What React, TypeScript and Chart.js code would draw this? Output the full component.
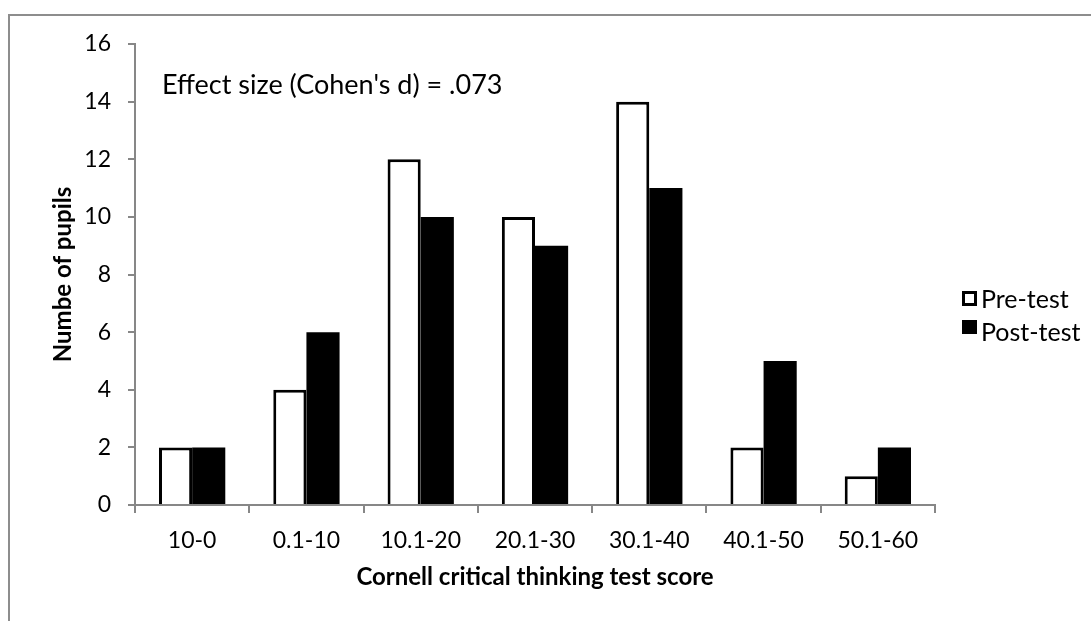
import React, { useEffect, useRef } from "react";
import { Chart, registerables } from "chart.js";

Chart.register(...registerables);

const categories = ["10-0", "0.1-10", "10.1-20", "20.1-30", "30.1-40", "40.1-50", "50.1-60"];
const preTest = [2, 4, 12, 10, 14, 2, 1];
const postTest = [2, 6, 10, 9, 11, 5, 2];
const seriesLabels = ["Pre-test", "Post-test"];
const yMin = 0;
const yMax = 16;
const yStep = 2;
const annotationText = "Effect size (Cohen's d) = .073";
const xTitle = "Cornell critical thinking test score";
const yTitle = "Numbe of pupils";

const FONT = "Lato";
const AXIS_GRAY = "#878787";

const decorPlugin = {
  id: "decor",
  beforeDraw(chart: any) {
    const ctx = chart.ctx;
    ctx.save();
    ctx.fillStyle = "#ffffff";
    ctx.fillRect(0, 0, chart.width, chart.height);
    ctx.fillStyle = "#8d8d8d";
    ctx.fillRect(8, 14, chart.width, 2);
    ctx.fillRect(8, 14, 2, chart.height);
    ctx.restore();
  },
  afterDraw(chart: any) {
    const ctx = chart.ctx;
    ctx.save();
    ctx.fillStyle = "#000000";
    ctx.font = `27px ${FONT}`;
    ctx.textBaseline = "alphabetic";
    ctx.textAlign = "left";
    ctx.fillText(annotationText, 162, 94);

    // legend
    const ds = chart.data.datasets;
    ctx.strokeStyle = ds[0].borderColor;
    ctx.lineWidth = 3;
    ctx.fillStyle = ds[0].backgroundColor;
    ctx.fillRect(963.5, 292.5, 12, 12);
    ctx.strokeRect(963.5, 292.5, 12, 12);
    ctx.fillStyle = ds[1].backgroundColor;
    ctx.fillRect(962, 320, 15, 14);

    ctx.fillStyle = "#000000";
    ctx.font = `25px ${FONT}`;
    ctx.fillText(ds[0].label, 981, 308);
    ctx.fillText(ds[1].label, 981, 341);
    ctx.restore();
  },
};

export default function App() {
  const canvasRef = useRef<HTMLCanvasElement | null>(null);

  useEffect(() => {
    if (!canvasRef.current) return;
    const chart = new Chart(canvasRef.current, {
      type: "bar",
      data: {
        labels: categories,
        datasets: [
          {
            label: seriesLabels[0],
            data: preTest,
            backgroundColor: "#ffffff",
            borderColor: "#000000",
            borderWidth: 3,
            categoryPercentage: 0.58,
            barPercentage: 1,
          },
          {
            label: seriesLabels[1],
            data: postTest,
            backgroundColor: "#000000",
            borderColor: "#000000",
            borderWidth: 0,
            categoryPercentage: 0.58,
            barPercentage: 1,
          },
        ],
      },
      options: {
        responsive: false,
        animation: false,
        devicePixelRatio: 1,
        layout: { padding: { top: 44, right: 156, bottom: 29, left: 49 } },
        plugins: {
          legend: { display: false },
          tooltip: { enabled: false },
          title: { display: false },
        },
        scales: {
          x: {
            z: 1,
            grid: {
              drawOnChartArea: false,
              drawTicks: true,
              tickLength: 8,
              color: AXIS_GRAY,
              lineWidth: 2,
              offset: true,
            },
            border: { display: true, color: AXIS_GRAY, width: 2 },
            ticks: {
              color: "#000000",
              font: { family: FONT, size: 23 },
              padding: 14,
              maxRotation: 0,
              autoSkip: false,
            },
            title: {
              display: true,
              text: xTitle,
              color: "#000000",
              font: { family: FONT, size: 24, weight: "bold" },
              padding: 0,
            },
            afterFit: (scale: any) => {
              scale.height = 87;
            },
          },
          y: {
            z: 1,
            min: yMin,
            max: yMax,
            grid: {
              drawOnChartArea: false,
              drawTicks: true,
              tickLength: 7,
              color: AXIS_GRAY,
              lineWidth: 2,
            },
            border: { display: true, color: AXIS_GRAY, width: 2 },
            ticks: {
              stepSize: yStep,
              color: "#000000",
              font: { family: FONT, size: 23 },
              padding: 17,
            },
            title: {
              display: true,
              text: yTitle,
              color: "#000000",
              font: { family: FONT, size: 24, weight: "bold" },
              padding: 0,
            },
            afterFit: (scale: any) => {
              scale.width = 86;
            },
          },
        },
      },
      plugins: [decorPlugin],
    } as any);
    return () => chart.destroy();
  }, []);

  return (
    <div style={{ position: "fixed", left: 0, top: 0, width: 1091, height: 621, background: "#fff" }}>
      <canvas ref={canvasRef} width={1091} height={621} style={{ display: "block", width: 1091, height: 621 }} />
    </div>
  );
}
